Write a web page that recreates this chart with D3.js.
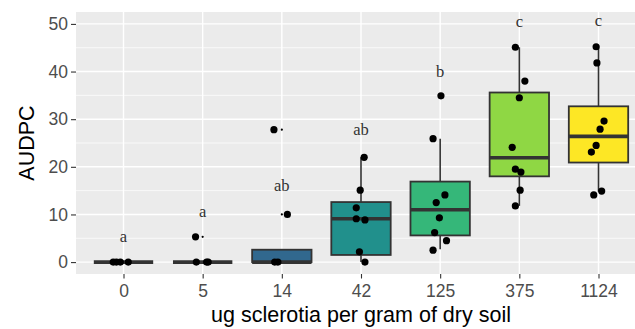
<!DOCTYPE html>
<html lang="en">
<head>
<meta charset="utf-8">
<style>
  body { margin: 0; background: #fff; }
  svg { display: block; font-family: "Liberation Sans", Arial, sans-serif; }
  .grid-major line { stroke: #fff; stroke-width: 1.4px; }
  .grid-minor line { stroke: #fff; stroke-width: 0.7px; }
  .axis path { display: none; }
  .axis line { stroke: #333; stroke-width: 1.1px; }
  .axis text { fill: #4d4d4d; font-size: 17.5px; }
</style>
</head>
<body>
<svg id="chart" width="635" height="329"></svg>
<script src="https://cdn.jsdelivr.net/npm/d3@7"></script>
<script>
// categories (ug sclerotia per gram of dry soil)
var doses = ["0", "5", "14", "42", "125", "375", "1124"];
var fills = ["#440154", "#443A83", "#31688E", "#21908C", "#35B779", "#8FD744", "#FDE725"];

// box stats
var lowWhisk = [0, 0, 0, 0, 2.7, 11.8, 14.8];
var q1       = [0, 0, 0, 1.5, 5.6, 18.0, 20.9];
var median   = [0, 0, 0, 9.1, 11.0, 21.9, 26.4];
var q3       = [0, 0, 2.6, 12.6, 16.9, 35.6, 32.7];
var highWhisk= [0, 0, 2.6, 22.0, 25.9, 45.1, 45.2];

// outliers drawn by the boxplot (small dots)
var outliers = [[], [5.3], [10.0, 27.8], [], [34.9], [], []];

// jittered observations: value and horizontal jitter (fraction of band step)
var obsValues = [
  [0, 0, 0, 0],
  [5.3, 0, 0, 0],
  [27.8, 10.0, 0, 0],
  [22.0, 15.1, 11.4, 9.1, 8.85, 2.15, 0],
  [34.9, 25.9, 14.1, 12.5, 9.3, 6.2, 4.5, 2.5],
  [45.1, 38.0, 34.5, 24.1, 19.5, 18.9, 15.1, 11.8],
  [45.2, 41.8, 29.6, 27.9, 24.5, 23.1, 14.1, 14.9]
];
var obsJitter = [
  [-0.13, -0.09, -0.04, 0.06],
  [-0.09, -0.08, 0.05, 0.07],
  [-0.10, 0.07, -0.09, -0.05],
  [0.04, -0.01, -0.06, -0.06, 0.05, -0.02, 0.05],
  [0.01, -0.09, 0.06, -0.05, -0.01, -0.07, 0.08, -0.09],
  [-0.05, 0.07, 0.00, -0.09, -0.05, 0.02, 0.01, -0.05],
  [-0.03, -0.02, 0.07, 0.02, -0.03, -0.09, -0.06, 0.04]
];

// significance letters and their heights
var letters = ["a", "a", "ab", "ab", "b", "c", "c"];
var letterY = [5.3, 10.6, 16.0, 27.7, 39.9, 50.3, 50.5];

var yTicks = [0, 10, 20, 30, 40, 50];
var yMinor = [5, 15, 25, 35, 45];

var svg = d3.select("#chart"),
    margin = {top: 12, right: -11, bottom: 55, left: 76},
    width = +svg.attr("width") - margin.left - margin.right,
    height = +svg.attr("height") - margin.top - margin.bottom,
    g = svg.append("g").attr("transform", "translate(" + margin.left + "," + margin.top + ")");

var step = width / (doses.length - 1 + 1.2);
var x = d3.scalePoint().domain(doses).range([0.6 * step, width - 0.6 * step]);
var y = d3.scaleLinear().domain([-2.5, 52.5]).range([height, 0]);
var boxW = 0.75 * step;

// panel background
g.append("rect").attr("width", width).attr("height", height).attr("fill", "#ebebeb");

// gridlines
g.append("g").attr("class", "grid-minor")
  .selectAll("line").data(yMinor).enter().append("line")
  .attr("x1", 0).attr("x2", width)
  .attr("y1", function(d) { return y(d); }).attr("y2", function(d) { return y(d); });

g.append("g").attr("class", "grid-major")
  .selectAll("line").data(yTicks).enter().append("line")
  .attr("x1", 0).attr("x2", width)
  .attr("y1", function(d) { return y(d); }).attr("y2", function(d) { return y(d); });

g.append("g").attr("class", "grid-major")
  .selectAll("line").data(doses).enter().append("line")
  .attr("y1", 0).attr("y2", height)
  .attr("x1", function(d) { return x(d); }).attr("x2", function(d) { return x(d); });

// boxplots
var box = g.selectAll(".box").data(doses).enter().append("g").attr("class", "box");

box.append("line")
  .attr("x1", function(d) { return x(d); }).attr("x2", function(d) { return x(d); })
  .attr("y1", function(d, i) { return y(highWhisk[i]); })
  .attr("y2", function(d, i) { return y(lowWhisk[i]); })
  .attr("stroke", "#333").attr("stroke-width", 1.6);

box.append("rect")
  .attr("x", function(d) { return x(d) - boxW / 2; })
  .attr("width", boxW)
  .attr("y", function(d, i) { return y(q3[i]); })
  .attr("height", function(d, i) { return y(q1[i]) - y(q3[i]); })
  .attr("fill", function(d, i) { return fills[i]; })
  .attr("stroke", "#333").attr("stroke-width", 1.8);

box.append("line")
  .attr("x1", function(d) { return x(d) - boxW / 2; })
  .attr("x2", function(d) { return x(d) + boxW / 2; })
  .attr("y1", function(d, i) { return y(median[i]); })
  .attr("y2", function(d, i) { return y(median[i]); })
  .attr("stroke", "#333").attr("stroke-width", 3.6);

// boxplot outliers (small)
box.selectAll(".out").data(function(d, i) { return outliers[i].map(function(v) { return {dose: d, v: v}; }); })
  .enter().append("circle").attr("class", "out")
  .attr("cx", function(d) { return x(d.dose); })
  .attr("cy", function(d) { return y(d.v); })
  .attr("r", 1.1).attr("fill", "#000");

// jittered points
box.selectAll(".pt").data(function(d, i) {
    return obsValues[i].map(function(v, j) { return {dose: d, v: v, jit: obsJitter[i][j]}; });
  })
  .enter().append("circle").attr("class", "pt")
  .attr("cx", function(d) { return x(d.dose) + d.jit * step; })
  .attr("cy", function(d) { return y(d.v); })
  .attr("r", 3.6).attr("fill", "#000");

// letters
g.selectAll(".letter").data(doses).enter().append("text")
  .attr("class", "letter")
  .attr("x", function(d) { return x(d); })
  .attr("y", function(d, i) { return y(letterY[i]); })
  .attr("dy", "0.3em")
  .attr("text-anchor", "middle")
  .style("font", "16.5px 'Liberation Serif', 'DejaVu Serif', serif")
  .attr("fill", "#333")
  .text(function(d, i) { return letters[i]; });

// axes
g.append("g").attr("class", "axis axis--y")
  .call(d3.axisLeft(y).tickValues(yTicks).tickSize(5).tickPadding(3));

g.append("g").attr("class", "axis axis--x")
  .attr("transform", "translate(0," + height + ")")
  .call(d3.axisBottom(x).tickSize(4.5).tickPadding(6));

// titles
svg.append("text")
  .attr("x", margin.left + width / 2)
  .attr("y", 322)
  .attr("text-anchor", "middle")
  .attr("fill", "#000")
  .style("font-size", "21.5px")
  .text("ug sclerotia per gram of dry soil");

svg.append("text")
  .attr("transform", "translate(34," + (margin.top + height / 2) + ") rotate(-90)")
  .attr("text-anchor", "middle")
  .attr("fill", "#000")
  .style("font-size", "21.5px")
  .text("AUDPC");
</script>
</body>
</html>
